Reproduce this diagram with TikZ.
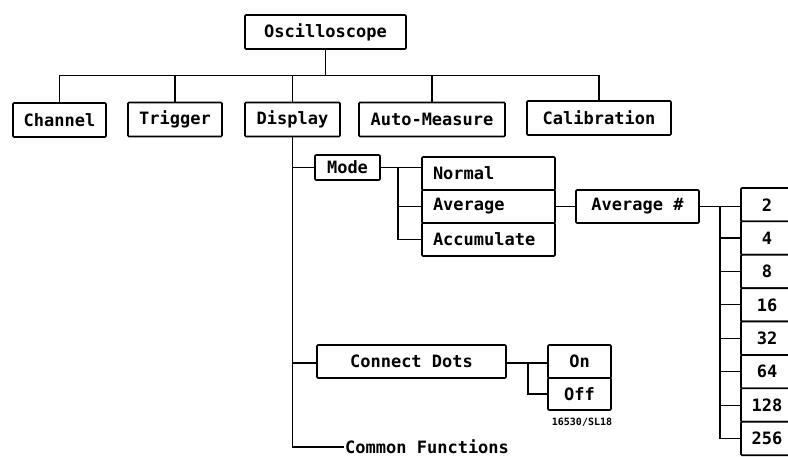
\documentclass[tikz,border=0pt]{standalone}
\usepackage{fontspec}
\usepackage{tikz}
\usetikzlibrary{positioning}
\newfontfamily\plotfont{DejaVu Sans Mono}
\tikzstyle{every node}=[font=\plotfont\bfseries\fontsize{17}{17}\selectfont]
\tikzstyle{menu}=[draw,fill=white,rectangle,line width=1.7pt,rounded corners=1pt,inner sep=0pt,minimum height=34pt]
\tikzstyle{item}=[menu,minimum height=33pt,text width=111pt,inner xsep=11pt,align=left]
\tikzstyle{num}=[menu,minimum width=52pt,minimum height=33.4pt]
\tikzstyle{link}=[line width=1.2pt]

\begin{document}
\begin{tikzpicture}[x=1pt,y=-1pt]
    \useasboundingbox (0,0) rectangle (788,457);
    \clip (0,0) rectangle (788,457);
    \node[menu, minimum width=161pt] (osc) at (325.5,32) {Oscilloscope};
    \node[menu, minimum width=93pt] (chan) at (59.5,120) {Channel};
    \node[menu, minimum width=94pt] (trig) at (175,119.5) {Trigger};
    \node[menu, minimum width=95pt] (disp) at (292.5,119.5) {Display};
    \node[menu, minimum width=146pt] (auto) at (432,119.5) {Auto-Measure};
    \node[menu, minimum width=144pt] (cal) at (599,118) {Calibration};
    \foreach \c in {chan,trig,disp,auto,cal}
        \draw[link] (osc.south) -- ++(0,26) -| (\c.north);
    \node[menu, minimum width=65pt, minimum height=25pt] (mode) at (347.5,167.5) {Mode};
    \node[item] (normal) at (488.5,173.5) {Normal};
    \node[item] (avg) at (488.5,206.5) {Average};
    \node[item] (accum) at (488.5,239.5) {Accumulate};
    \node[menu, minimum width=123pt, minimum height=33pt] (avgn) at (637.5,206.5) {Average \#};
    \node[menu, minimum width=189pt, minimum height=33pt] (dots) at (411.5,361.5) {Connect Dots};
    \node[menu, minimum width=63pt, minimum height=33pt] (on) at (579.5,361.5) {On};
    \node[menu, minimum width=63pt, minimum height=32pt] (off) at (579.5,394) {Off};
    \node[font=\plotfont\bfseries\fontsize{10}{10}\selectfont] (fig) at (582,422) {16530/SL18};
    \node[anchor=west, inner sep=1pt] (common) at (344,447) {Common Functions};
    \foreach \v [count=\i] in {2,4,8,16,32,64,128,256}
        \node[num] (n\i) at (767,188+33.4*\i-16.7) {\v};
    \coordinate (mfork) at (398,167.5);
    \coordinate (nfork) at (720,206.5);
    \coordinate (dfork) at (528,363);
    \draw[link] (disp.south) |- (common.west);
    \draw[link] (disp.south |- mode) -- (mode.west);
    \draw[link] (mode.east) -- (mode.east -| normal.west);
    \draw[link] (mfork) |- (accum.west);
    \draw[link] (mfork |- avg) -- (avg.west);
    \draw[link] (avg.east) -- (avgn.west);
    \draw[link] (avgn.east) -- (avgn.east -| n1.west);
    \draw[link] (nfork) |- (n8.west);
    \foreach \i in {2,...,7}
        \draw[link] (nfork |- n\i) -- (n\i.west);
    \draw[link] (disp.south |- dfork) -- (dots.west |- dfork);
    \draw[link] (dots.east |- dfork) -- (on.west |- dfork);
    \draw[link] (dfork) |- (off.west);
\end{tikzpicture}
\end{document}
